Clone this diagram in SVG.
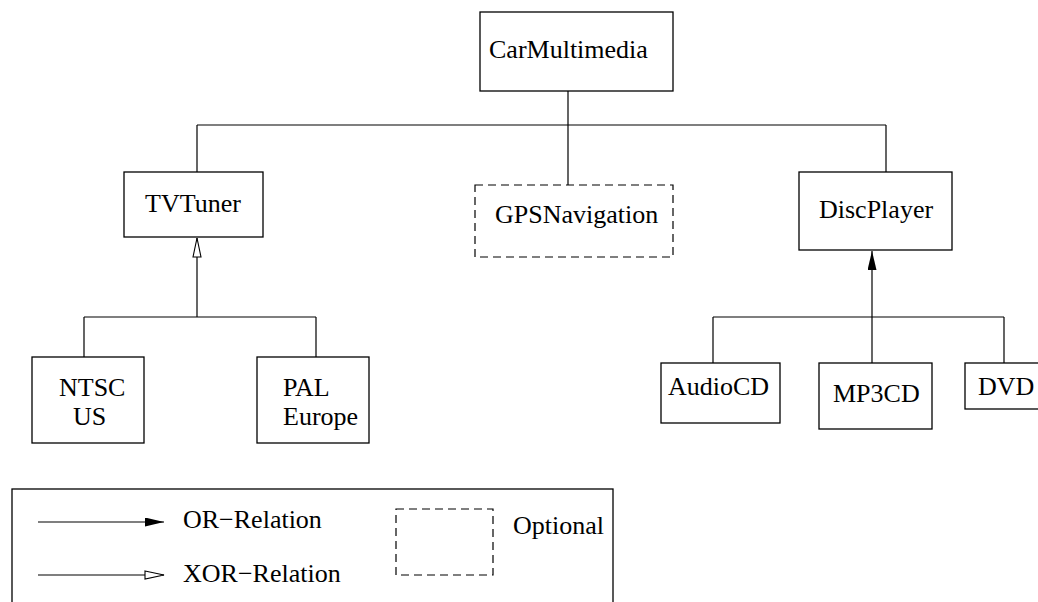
<svg xmlns="http://www.w3.org/2000/svg" width="1038" height="602" viewBox="0 0 1038 602">
  <style>
    .box { fill: #fff; stroke: #000; stroke-width: 1.3; }
    .opt { fill: none; stroke: #000; stroke-width: 1.2; stroke-dasharray: 8 5; }
    .wire { fill: none; stroke: #000; stroke-width: 1.2; }
    text { font-family: "Liberation Serif", "Times New Roman", serif; font-size: 26px; fill: #000; }
  </style>
  <defs>
    <marker id="orHead" markerUnits="userSpaceOnUse" markerWidth="20" markerHeight="10" refX="19" refY="4.5" orient="auto">
      <path d="M0,0 L19,4.5 L0,9 z" fill="#000"/>
    </marker>
    <marker id="xorHead" markerUnits="userSpaceOnUse" markerWidth="22" markerHeight="12" refX="20" refY="5" orient="auto">
      <path d="M1,1 L20,5 L1,9 z" fill="#fff" stroke="#000" stroke-width="1.1"/>
    </marker>
  </defs>

  <!-- connectors -->
  <g id="connectors">
    <path class="wire" d="M568,91 V125 M197,125 H886 M197,125 V172 M568,125 V185 M886,125 V172"/>
    <path class="wire" d="M84,317 H316 M84,317 V357 M316,317 V357"/>
    <path class="wire" d="M197,317 V238" marker-end="url(#xorHead)"/>
    <path class="wire" d="M713,317 H1004 M713,317 V363 M1004,317 V363"/>
    <path class="wire" d="M872,363 V251" marker-end="url(#orHead)"/>
  </g>

  <!-- feature nodes -->
  <g id="carMultimedia">
    <rect class="box" x="480" y="12" width="193" height="79"/>
    <text x="489" y="58">CarMultimedia</text>
  </g>
  <g id="tvTuner">
    <rect class="box" x="124" y="172" width="139" height="65"/>
    <text x="145" y="212">TVTuner</text>
  </g>
  <g id="gpsNavigation">
    <rect class="opt" x="475" y="185" width="198" height="72"/>
    <text x="495" y="223">GPSNavigation</text>
  </g>
  <g id="discPlayer">
    <rect class="box" x="799" y="172" width="153" height="78"/>
    <text x="819" y="218">DiscPlayer</text>
  </g>
  <g id="ntscUS">
    <rect class="box" x="32" y="357" width="112" height="86"/>
    <text x="59" y="396">NTSC</text>
    <text x="73" y="425">US</text>
  </g>
  <g id="palEurope">
    <rect class="box" x="257" y="357" width="112" height="86"/>
    <text x="283" y="396">PAL</text>
    <text x="283" y="425">Europe</text>
  </g>
  <g id="audioCD">
    <rect class="box" x="661" y="363" width="119" height="60"/>
    <text x="668" y="395">AudioCD</text>
  </g>
  <g id="mp3CD">
    <rect class="box" x="819" y="363" width="113" height="66"/>
    <text x="833" y="402">MP3CD</text>
  </g>
  <g id="dvd">
    <rect class="box" x="965" y="363" width="90" height="46"/>
    <text x="978" y="395">DVD</text>
  </g>

  <!-- legend -->
  <g id="legend">
    <rect class="box" x="12" y="489" width="601" height="130"/>
    <path class="wire" d="M38,522 H164" marker-end="url(#orHead)"/>
    <text x="183" y="528">OR−Relation</text>
    <path class="wire" d="M38,575 H164" marker-end="url(#xorHead)"/>
    <text x="183" y="582">XOR−Relation</text>
    <rect class="opt" x="396" y="509" width="97" height="66"/>
    <text x="513" y="534">Optional</text>
  </g>
</svg>
